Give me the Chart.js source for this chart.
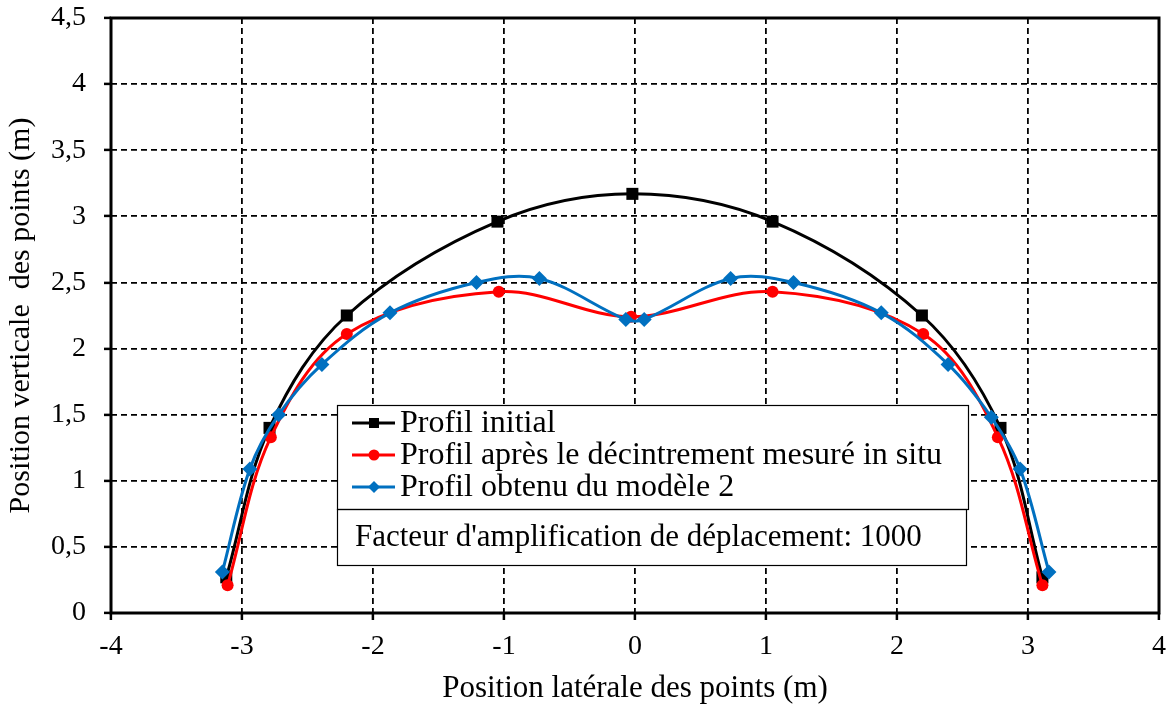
<!DOCTYPE html>
<html>
<head>
<meta charset="utf-8">
<script src="https://cdn.jsdelivr.net/npm/chart.js@4.4.1/dist/chart.umd.min.js"></script>
<style>
  html, body { margin: 0; padding: 0; background: #fff; }
</style>
</head>
<body>
<canvas id="chart" width="1176" height="709"></canvas>
<script>
// data
const initX = [-3.12, -2.79, -2.20, -1.05, -0.02, 1.05, 2.19, 2.79, 3.11]
const initY = [0.27, 1.40, 2.25, 2.96, 3.17, 2.96, 2.25, 1.40, 0.27]

const insituX = [-3.11, -2.78, -2.20, -1.04, -0.03, 1.05, 2.20, 2.77, 3.11]
const insituY = [0.21, 1.33, 2.11, 2.43, 2.24, 2.43, 2.11, 1.33, 0.21]

const modelX = [-3.15, -2.94, -2.72, -2.39, -1.87, -1.21, -0.73, -0.07, 0.07, 0.73, 1.21, 1.88, 2.39, 2.72, 2.94, 3.16]
const modelY = [0.31, 1.09, 1.50, 1.88, 2.27, 2.50, 2.53, 2.22, 2.22, 2.53, 2.50, 2.27, 1.88, 1.48, 1.09, 0.31]

const seriesNames = ['Profil initial', 'Profil après le décintrement mesuré in situ', 'Profil obtenu du modèle 2']
const note = "Facteur d'amplification de déplacement: 1000"

const xTitle = 'Position latérale des points (m)'
const yTitle = 'Position verticale  des points (m)'

const FONT = "'Liberation Serif', serif"

const pts = (xs, ys) => xs.map((x, i) => ({ x: x, y: ys[i] }))

const ctx = document.getElementById('chart').getContext('2d')

// frame + legend drawn inside the plot like the excel one
const frameAndLegend = {
  id: 'frameAndLegend',
  afterDraw(chart) {
    const c = chart.ctx
    const a = chart.chartArea
    c.save()
    c.strokeStyle = '#000'
    c.lineWidth = 3
    c.strokeRect(a.left, a.top, a.right - a.left, a.bottom - a.top)

    // legend box
    const bx = 337, by = 405, bw = 631, bh = 104
    c.fillStyle = '#fff'
    c.fillRect(bx, by, bw, bh)
    c.fillRect(bx, by + bh, 629, 56)
    c.lineWidth = 1.2
    c.strokeRect(bx + 0.5, by + 0.5, bw, bh)
    c.strokeRect(bx + 0.5, by + bh + 0.5, 629, 56)

    const ds = chart.data.datasets
    c.font = '32px ' + FONT
    c.textBaseline = 'middle'
    c.textAlign = 'left'
    ds.forEach((d, i) => {
      const y = by + 18 + i * 32
      c.strokeStyle = d.borderColor
      c.lineWidth = 3
      c.beginPath()
      c.moveTo(bx + 15, y)
      c.lineTo(bx + 58, y)
      c.stroke()
      c.fillStyle = d.backgroundColor
      const mx = bx + 37
      c.beginPath()
      if (d.pointStyle === 'rect') {
        c.rect(mx - 5, y - 5, 10, 10)
      } else if (d.pointStyle === 'circle') {
        c.arc(mx, y, 5.5, 0, Math.PI * 2)
      } else {
        c.moveTo(mx, y - 6); c.lineTo(mx + 6, y); c.lineTo(mx, y + 6); c.lineTo(mx - 6, y); c.closePath()
      }
      c.fill()
      c.fillStyle = '#000'
      c.fillText(d.label, bx + 63, y + 1)
    })
    c.font = '31px ' + FONT
    c.fillText(note, bx + 18, by + bh + 29)
    c.restore()
  }
}

const config = {
  type: 'scatter',
  data: {
    datasets: [
      {
        label: seriesNames[0],
        data: pts(initX, initY),
        showLine: true,
        borderColor: '#000000',
        backgroundColor: '#000000',
        borderWidth: 3,
        pointStyle: 'rect',
        pointRadius: 8.5,
        pointBorderWidth: 0,
        tension: 0.35,
        order: 3
      },
      {
        label: seriesNames[1],
        data: pts(insituX, insituY),
        showLine: true,
        borderColor: '#ff0000',
        backgroundColor: '#ff0000',
        borderWidth: 3,
        pointStyle: 'circle',
        pointRadius: 6,
        pointBorderWidth: 0,
        tension: 0.35,
        order: 2
      },
      {
        label: seriesNames[2],
        data: pts(modelX, modelY),
        showLine: true,
        borderColor: '#0070c0',
        backgroundColor: '#0070c0',
        borderWidth: 3,
        pointStyle: 'rectRot',
        pointRadius: 7.5,
        pointBorderWidth: 0,
        tension: 0.35,
        order: 1
      }
    ]
  },
  options: {
    responsive: false,
    animation: false,
    layout: { padding: { top: 18, right: 17, left: 0, bottom: 0 } },
    plugins: {
      legend: { display: false },
      tooltip: { enabled: false }
    },
    scales: {
      x: {
        type: 'linear',
        min: -4,
        max: 4,
        ticks: {
          stepSize: 1,
          color: '#000',
          padding: 10,
          font: { family: FONT, size: 28 }
        },
        grid: { color: '#000', lineWidth: 1.8, tickLength: 7, tickColor: '#000', tickWidth: 2.5 },
        border: { display: false, dash: [6, 4] },
        title: {
          display: true,
          text: xTitle,
          color: '#000',
          font: { family: FONT, size: 31 },
          padding: { top: 0, bottom: 2 }
        },
        afterFit: s => { s.height = 96; s.paddingLeft = 0; s.paddingRight = 0 }
      },
      y: {
        type: 'linear',
        min: 0,
        max: 4.5,
        ticks: {
          stepSize: 0.5,
          color: '#000',
          padding: 18,
          font: { family: FONT, size: 28 },
          callback: v => String(v).replace('.', ',')
        },
        grid: { color: '#000', lineWidth: 1.8, tickLength: 7, tickColor: '#000', tickWidth: 2.5 },
        border: { display: false, dash: [6, 4] },
        title: {
          display: true,
          text: yTitle,
          color: '#000',
          font: { family: FONT, size: 30 },
          padding: { top: 3, bottom: 0 }
        },
        afterFit: s => { s.width = 111; s.paddingTop = 0; s.paddingBottom = 0 }
      }
    }
  },
  plugins: [frameAndLegend]
}

const myChart = new Chart(ctx, config)
</script>
</body>
</html>
